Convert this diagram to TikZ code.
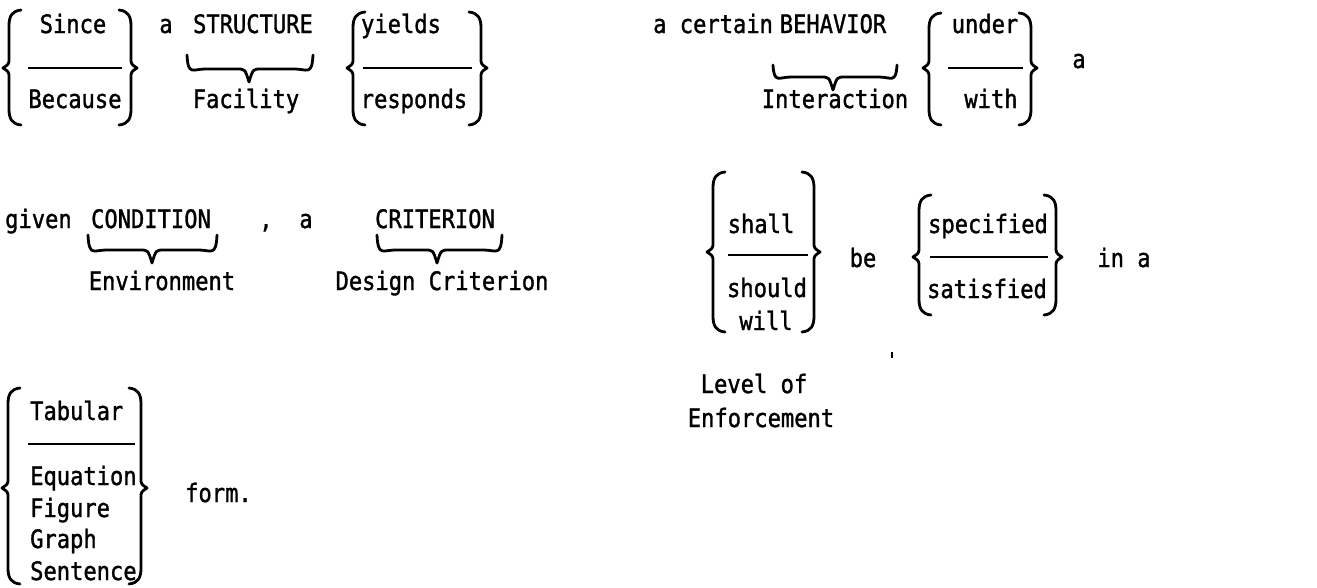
\documentclass[tikz,border=0pt]{standalone}
\usepackage{fontspec}
\newfontfamily\tfam{DejaVu Sans Mono}[FakeStretch=0.87,FakeBold=1.3]
\newcommand\tf{\tfam\fontsize{25.4}{30}\selectfont}
% left brace: tip x, top y, bottom y, tip y
\newcommand\LBr[4]{\draw[brc] (#1+18,#2) .. controls (#1+9,#2+1) and (#1+6,#2+6) .. (#1+6,#2+16) -- (#1+6,#4-10) .. controls (#1+6,#4-4) .. (#1,#4) .. controls (#1+6,#4+4) .. (#1+6,#4+10) -- (#1+6,#3-16) .. controls (#1+6,#3-6) and (#1+9,#3-1) .. (#1+18,#3);}
\newcommand\RBr[4]{\draw[brc] (#1-18,#2) .. controls (#1-9,#2+1) and (#1-6,#2+6) .. (#1-6,#2+16) -- (#1-6,#4-10) .. controls (#1-6,#4-4) .. (#1,#4) .. controls (#1-6,#4+4) .. (#1-6,#4+10) -- (#1-6,#3-16) .. controls (#1-6,#3-6) and (#1-9,#3-1) .. (#1-18,#3);}
% under brace: x1, x2, top y, tip y, tip x
\newcommand\UBr[5]{\draw[brc] (#1,#3) .. controls (#1+1,#4-6) and (#1+6,#4-13) .. (#1+18,#4-13) -- (#5-12,#4-13) .. controls (#5-4,#4-13) .. (#5,#4) .. controls (#5+4,#4-13) .. (#5+12,#4-13) -- (#2-18,#4-13) .. controls (#2-6,#4-13) and (#2-1,#4-6) .. (#2,#3);}
\tikzset{
  txt/.style={inner sep=0pt, anchor=base, font=\tf},
  txtw/.style={txt, anchor=base west},
  brc/.style={line width=2.8pt, line cap=round, line join=round},
  rule/.style={line width=1.8pt}
}
\begin{document}
\begin{tikzpicture}[x=1pt,y=-1pt]
\useasboundingbox (0,0) rectangle (1317,587);
% ---------- row 1
\LBr{3}{10}{125}{68}
\node[txt] (since) at (73,33) {Since};
\draw[rule] (28,68) -- (122,68);
\node[txt] (because) at (75,108) {Because};
\RBr{137}{10}{125}{68}
\node[txt] (a1) at (166,33) {a};
\node[txt] (structure) at (253,33) {STRUCTURE};
\UBr{187}{313}{55}{82}{249}
\node[txt] (facility) at (246,108) {Facility};
\LBr{347}{12}{125}{68}
\node[txt] (yields) at (401,33) {yields};
\draw[rule] (363,68) -- (472,68);
\node[txt] (responds) at (414,108) {responds};
\RBr{487}{12}{125}{68}
\node[txtw] (certain) at (653,33) {a certain};
\node[txt] (behavior) at (833,33) {BEHAVIOR};
\UBr{773}{897}{65}{90}{833}
\node[txt] (interaction) at (835,108) {Interaction};
\LBr{923}{13}{125}{68}
\node[txt] (under) at (985,33) {under};
\draw[rule] (948,68) -- (1023,68);
\node[txt] (with) at (991,108) {with};
\RBr{1037}{13}{125}{68}
\node[txt] (a2) at (1079,68) {a};
% ---------- row 2
\node[txtw] (given) at (5,228) {given};
\node[txt] (condition) at (151,228) {CONDITION};
\UBr{88}{217}{235}{263}{152}
\node[txt] (environment) at (162,290) {Environment};
\node[txt] (comma) at (266,228) {,};
\node[txt] (a3) at (306,228) {a};
\node[txt] (criterion) at (435,228) {CRITERION};
\UBr{377}{502}{235}{263}{437}
\node[txt] (designcrit) at (442,290) {Design Criterion};
\LBr{707}{172}{332}{252}
\node[txt] (shall) at (761,233) {shall};
\draw[rule] (728,255) -- (808,255);
\node[txt] (should) at (767,297) {should};
\node[txt] (will) at (766,330) {will};
\RBr{820}{172}{332}{252}
\node[txt] (be) at (863,267) {be};
\LBr{913}{195}{315}{257}
\node[txt] (specified) at (988,233) {specified};
\draw[rule] (930,257) -- (1048,257);
\node[txt] (satisfied) at (987,298) {satisfied};
\RBr{1062}{195}{315}{257}
\node[txt] (ina) at (1124,267) {in a};
\node[txt] (level) at (754,393) {Level of};
\node[txt] (enforcement) at (761,427) {Enforcement};
\draw[line width=1.5pt] (892,352) -- (892,358);
% ---------- row 3
\LBr{2}{388}{584}{488}
\node[txtw] (tabular) at (30,420) {Tabular};
\draw[rule] (28,444) -- (135,444);
\node[txtw] (equation) at (30,485) {Equation};
\node[txtw] (figure) at (30,517) {Figure};
\node[txtw] (graph) at (30,548) {Graph};
\node[txtw] (sentence) at (30,580) {Sentence};
\RBr{147}{388}{584}{488}
\node[txtw] (form) at (185,502) {form.};
\end{tikzpicture}
\end{document}
